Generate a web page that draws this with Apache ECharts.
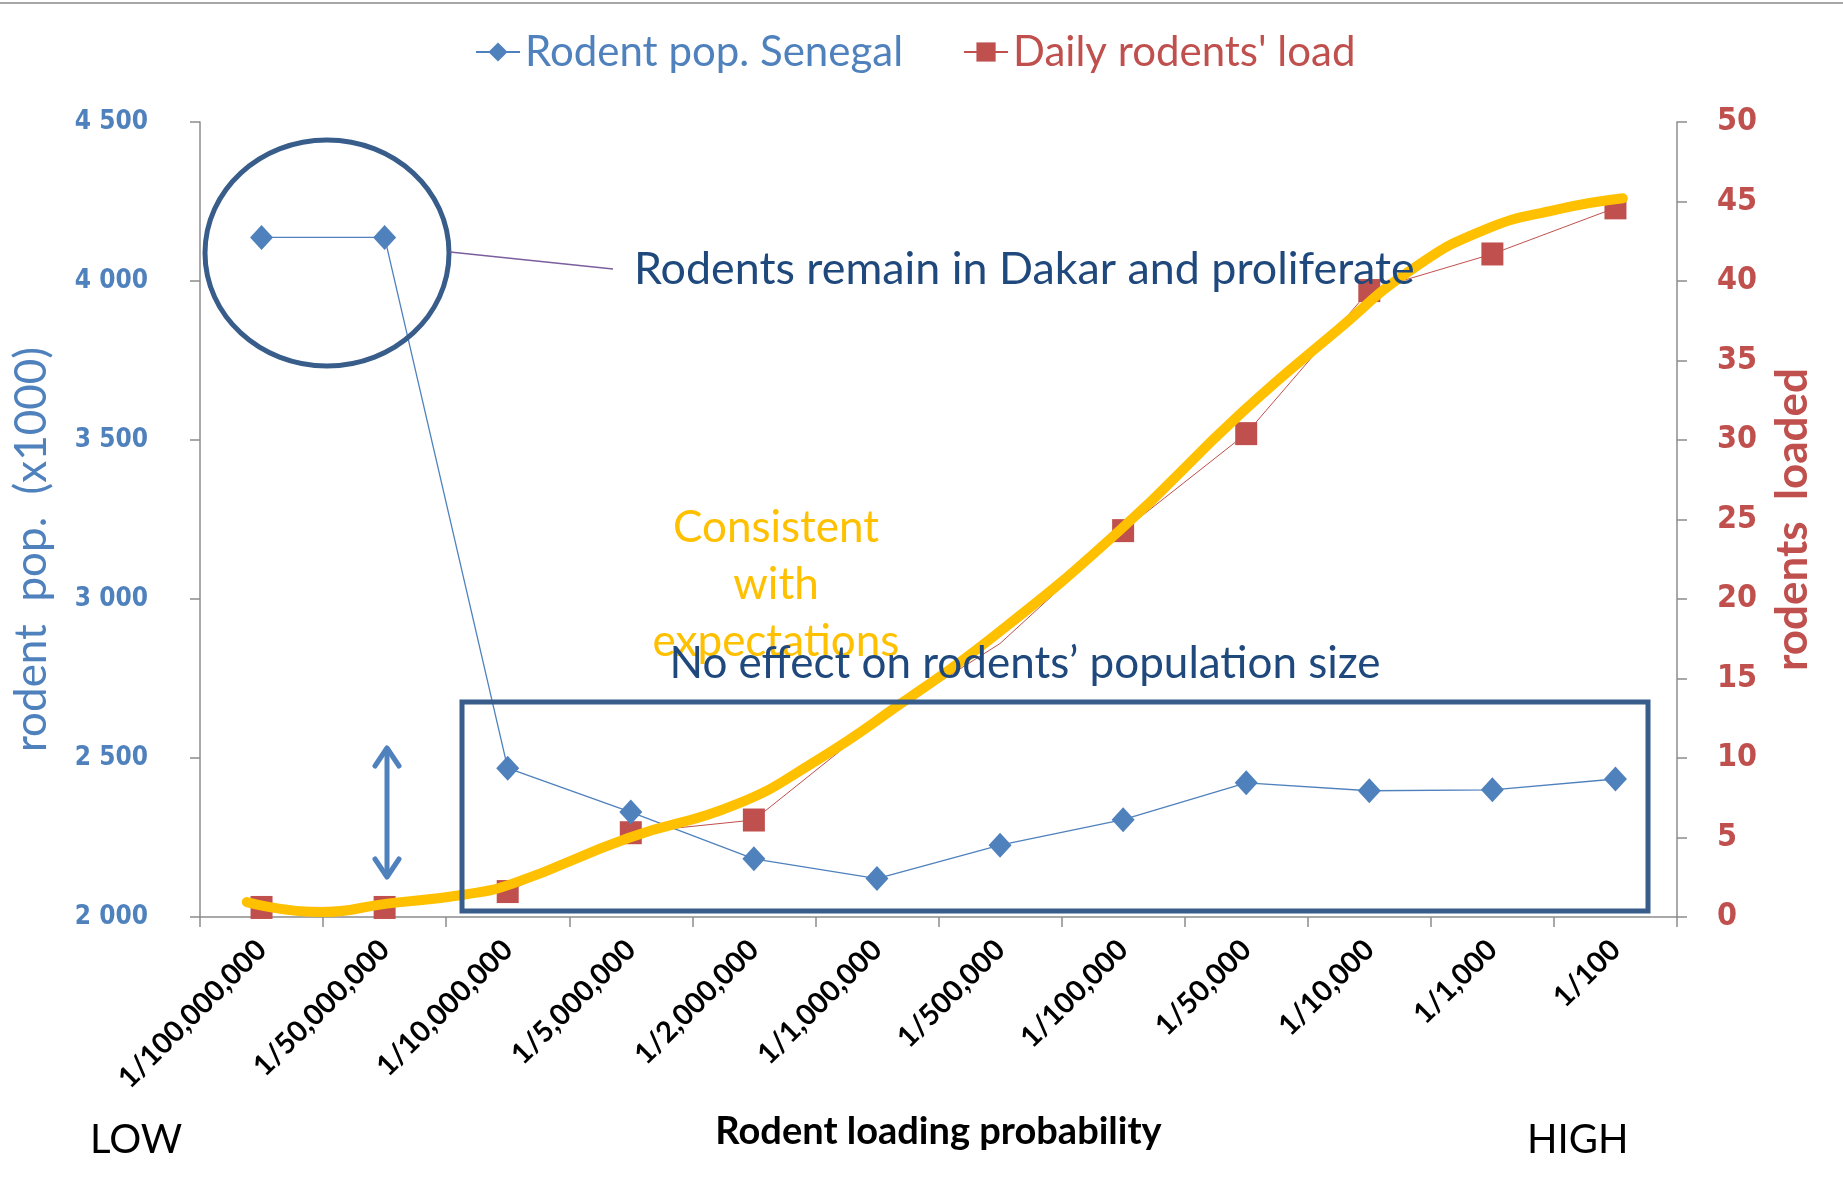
<!DOCTYPE html>
<html>
<head>
<meta charset="utf-8">
<script src="https://cdn.jsdelivr.net/npm/echarts@6/dist/echarts.min.js"></script>
<style>
html,body{margin:0;padding:0;background:#fff;}
#chart{width:1843px;height:1180px;}
</style>
</head>
<body>
<div id="chart"></div>
<script>
// ---- data ----
const categories = ['1/100,000,000', '1/50,000,000', '1/10,000,000', '1/5,000,000', '1/2,000,000', '1/1,000,000', '1/500,000', '1/100,000', '1/50,000', '1/10,000', '1/1,000', '1/100'];
const rodentPop = [4137, 4137, 2468, 2330, 2183, 2121, 2226, 2306, 2422, 2397, 2400, 2434];
const dailyLoad = [0.6, 0.6, 1.6, 5.3, 6.1, 12.3, 17.2, 24.3, 30.4, 39.4, 41.7, 44.6];
const loadHiddenMarker = [false, false, false, false, false, true, true, false, false, false, false, false];
// hand-drawn trend curve (category position, rodents loaded)
const trendX = [-0.12, 0.48, 1.02, 1.64, 2.04, 2.98, 3.85, 4.5, 5.19, 5.94, 6.97, 7.96, 8.74, 9.34, 9.93, 10.53, 11.06];
const trendY = [0.94, 0.31, 0.84, 1.4, 2.1, 4.97, 7.06, 9.8, 13.4, 17.6, 24.3, 31.7, 36.9, 40.7, 43.2, 44.5, 45.2];
const leftTicks = [2000, 2500, 3000, 3500, 4000, 4500];
const rightTicks = [0, 5, 10, 15, 20, 25, 30, 35, 40, 45, 50];

const BLUE = '#4F81BD', RED = '#C0504D', GOLD = '#FFC000', NAVY = '#1F497D', SHAPE = '#385D8A', AXIS = '#8C8C8C';
const CAL = 'Lato, "Noto Sans", sans-serif';
const VERD = '"DejaVu Sans Condensed", "DejaVu Sans", Verdana, sans-serif';

const chart = echarts.init(document.getElementById('chart'));
const fmtSpace = v => String(v).replace(/\B(?=(\d{3})+(?!\d))/g, ' ');

chart.setOption({
  backgroundColor: '#fff',
  animation: false,
  grid: {left: 200, right: 166, top: 122, bottom: 263, containLabel: false},
  legend: {
    left: 470, top: 26, itemWidth: 44, itemHeight: 24, itemGap: 60,
    textStyle: {fontFamily: CAL, fontSize: 42},
    data: [
      {name: 'Rodent pop. Senegal', textStyle: {color: BLUE}},
      {name: "Daily rodents' load", textStyle: {color: RED}}
    ]
  },
  xAxis: [{
    type: 'category', data: categories, boundaryGap: true,
    axisLine: {lineStyle: {color: AXIS, width: 1.5}},
    axisTick: {show: true, length: 10, interval: 0, lineStyle: {color: AXIS, width: 1.5}},
    axisLabel: {interval: 0, rotate: 45, margin: 28, color: '#000', fontWeight: 'bold', fontFamily: CAL, fontSize: 29},
    name: 'Rodent loading probability', nameLocation: 'middle', nameGap: 196,
    nameTextStyle: {color: '#000', fontWeight: 'bold', fontFamily: CAL, fontSize: 38}
  }, {
    type: 'value', min: -0.5, max: 11.5, show: false
  }],
  yAxis: [{
    type: 'value', position: 'left', min: leftTicks[0], max: leftTicks[leftTicks.length - 1], interval: 500,
    axisLine: {show: true, onZero: false, lineStyle: {color: AXIS, width: 1.5}},
    axisTick: {show: true, length: 10, lineStyle: {color: AXIS, width: 1.5}},
    splitLine: {show: false},
    axisLabel: {margin: 52, color: BLUE, fontWeight: 'bold', fontFamily: VERD, fontSize: 26, formatter: fmtSpace},
    name: 'rodent  pop.  (x1000)', nameLocation: 'middle', nameRotate: 90, nameGap: 146,
    nameTextStyle: {color: BLUE, fontFamily: CAL, fontSize: 44, padding: [0, 60, 0, 0]}
  }, {
    type: 'value', position: 'right', min: rightTicks[0], max: rightTicks[rightTicks.length - 1], interval: 5,
    axisLine: {show: true, onZero: false, lineStyle: {color: AXIS, width: 1.5}},
    axisTick: {show: true, length: 10, lineStyle: {color: AXIS, width: 1.5}},
    splitLine: {show: false},
    axisLabel: {margin: 40, color: RED, fontWeight: 'bold', fontFamily: VERD, fontSize: 32},
    name: 'rodents  loaded', nameLocation: 'middle', nameRotate: 90, nameGap: 94,
    nameTextStyle: {color: RED, fontWeight: 'bold', fontFamily: CAL, fontSize: 44}
  }],
  series: [{
    name: 'Rodent pop. Senegal', type: 'line', xAxisIndex: 0, yAxisIndex: 0,
    data: rodentPop, symbol: 'diamond', symbolSize: [23, 25],
    itemStyle: {color: BLUE}, lineStyle: {color: BLUE, width: 1.3}, z: 3
  }, {
    name: "Daily rodents' load", type: 'line', xAxisIndex: 0, yAxisIndex: 1,
    data: dailyLoad.map((v, i) => loadHiddenMarker[i] ? {value: v, symbol: 'none'} : v),
    symbol: 'rect', symbolSize: [22, 23],
    itemStyle: {color: RED}, lineStyle: {color: RED, width: 1}, z: 2
  }, {
    name: 'trend', type: 'line', xAxisIndex: 1, yAxisIndex: 1,
    data: trendX.map((x, i) => [x, trendY[i]]), smooth: 0.5,
    showSymbol: false, symbol: 'none', silent: true,
    lineStyle: {color: GOLD, width: 10, cap: 'round', join: 'round'}, z: 4
  }],
  graphic: [
    {type: 'line', shape: {x1: 0, y1: 3, x2: 1843, y2: 3}, style: {stroke: '#A6A6A6', lineWidth: 2}},
    {type: 'ellipse', shape: {cx: 327, cy: 253, rx: 122, ry: 113}, style: {stroke: SHAPE, lineWidth: 5, fill: null}, z: 10},
    {type: 'line', shape: {x1: 450, y1: 252, x2: 613, y2: 269}, style: {stroke: '#7B5E9E', lineWidth: 1.5}, z: 10},
    {type: 'rect', shape: {x: 462, y: 702, width: 1186, height: 209}, style: {stroke: SHAPE, lineWidth: 5, fill: null}, z: 10},
    {type: 'line', shape: {x1: 387, y1: 750, x2: 387, y2: 875}, style: {stroke: BLUE, lineWidth: 5, lineCap: 'round'}, z: 10},
    {type: 'polyline', shape: {points: [[375, 766], [387, 748], [399, 766]]}, style: {stroke: BLUE, lineWidth: 5, lineCap: 'round', lineJoin: 'round', fill: null}, z: 10},
    {type: 'polyline', shape: {points: [[375, 859], [387, 877], [399, 859]]}, style: {stroke: BLUE, lineWidth: 5, lineCap: 'round', lineJoin: 'round', fill: null}, z: 10},
    {type: 'text', z: 11, style: {text: 'Rodents remain in Dakar and proliferate', x: 634, y: 270, fill: NAVY, font: 'normal 44.8px ' + CAL, textAlign: 'left', textVerticalAlign: 'middle'}},
    {type: 'text', z: 11, style: {text: 'Consistent\nwith\nexpectations', x: 776, y: 585, fill: GOLD, font: 'normal 44px ' + CAL, textAlign: 'center', textVerticalAlign: 'middle', lineHeight: 57}},
    {type: 'text', z: 11, style: {text: 'No effect on rodents\u2019 population size', x: 1025, y: 664, fill: NAVY, font: 'normal 44px ' + CAL, textAlign: 'center', textVerticalAlign: 'middle'}},
    {type: 'text', z: 11, style: {text: 'LOW', x: 90, y: 1140, fill: '#000', font: 'normal 40px ' + CAL, textAlign: 'left', textVerticalAlign: 'middle'}},
    {type: 'text', z: 11, style: {text: 'HIGH', x: 1527, y: 1140, fill: '#000', font: 'normal 40px ' + CAL, textAlign: 'left', textVerticalAlign: 'middle'}}
  ]
});
</script>
</body>
</html>
